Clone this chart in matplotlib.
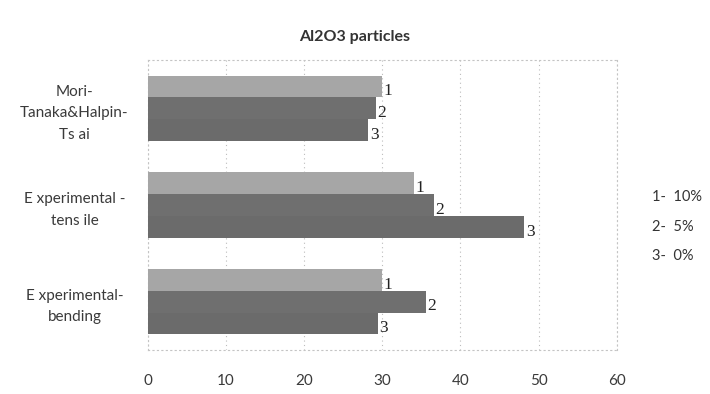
import numpy as np
import matplotlib
matplotlib.use("Agg")
from matplotlib import pyplot as plt

# Al2O3 particle results, three content levels per method
categories = ["Mori-\nTanaka&Halpin-\nTs ai", "E xperimental -\ntens ile", "E xperimental-\nbending"]
series_names = ["1", "2", "3"]
legend_labels = ["1-  10%", "2-  5%", "3-  0%"]
vals_10 = [30, 34, 30]
vals_5 = [29.2, 36.6, 35.6]
vals_0 = [28.2, 48.2, 29.4]
xticks = [0, 10, 20, 30, 40, 50, 60]

colors = ["#a6a6a6", "#6f6f6f", "#6b6b6b"]
sans = "Lato"
serif = "Liberation Serif"

fig = plt.figure(figsize=(7.10, 3.94), dpi=100)
ax = fig.add_axes([0.2085, 0.1117, 0.66, 0.736])

n = len(categories)
ypos = np.arange(n)[::-1].astype(float)  # first category at top
h = 0.225
series = [vals_10, vals_5, vals_0]
for k, vals in enumerate(series):
    yk = ypos + (1 - k) * h
    ax.barh(yk, vals, height=h, color=colors[k], zorder=3)
    for y, v in zip(yk, vals):
        ax.text(v + 0.2, y - 0.05, series_names[k], fontsize=12.5, family=serif,
                color="#222222", va="center", ha="left", zorder=4)

ax.set_xlim(0, 60)
ax.set_ylim(-0.5, n - 0.5)
ax.set_xticks(xticks)
ax.set_xticklabels([str(t) for t in xticks], family=sans, fontsize=11, color="#3a3a3a")
ax.set_yticks(ypos)
ax.set_yticklabels(categories, family=sans, fontsize=11, color="#3a3a3a",
                   ha="center", linespacing=1.65)
ax.tick_params(axis="y", length=0, pad=53)
ax.tick_params(axis="x", length=0, pad=17)

ax.grid(True, axis="x", linestyle=(0, (1, 3)), color="#bcbcbc", linewidth=0.8, zorder=0)
for s in ax.spines.values():
    s.set_linestyle((0, (1, 3)))
    s.set_color("#c4c4c4")
    s.set_linewidth(0.8)

fig.text(0.5, 0.905, "Al2O3 particles", family=sans, fontweight="bold", fontsize=11.5,
         color="#333333", ha="center", va="center")

# legend as plain text entries on the right
for i, lab in enumerate(legend_labels):
    fig.text(0.918, 0.5 - 0.075 * i, lab, family=sans, fontsize=10.5,
             color="#333333", ha="left", va="center")

fig.savefig("out.png", dpi=100)
